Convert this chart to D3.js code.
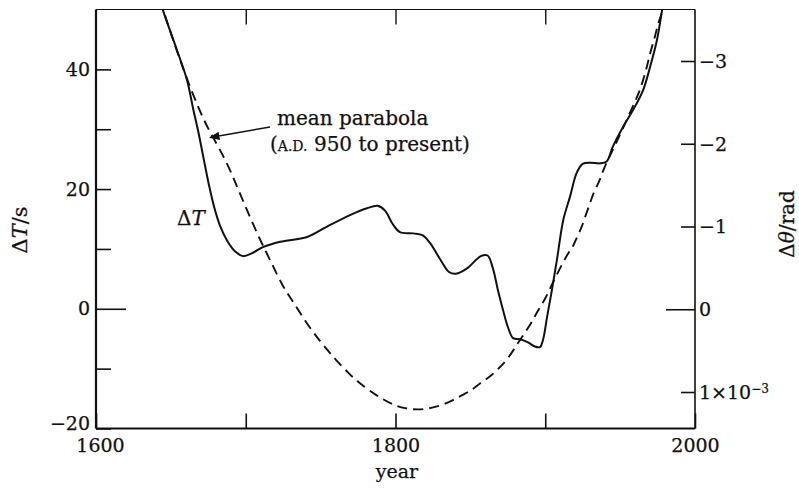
<!DOCTYPE html>
<html>
<head>
<meta charset="utf-8">
<script src="https://cdn.jsdelivr.net/npm/d3@7"></script>
<style>
  html, body { margin: 0; padding: 0; background: #fff; }
  svg { display: block; }
  text { font-family: "DejaVu Serif", "Liberation Serif", serif; fill: #111; stroke: #111; stroke-width: 0.25px; }
</style>
</head>
<body>
<svg id="chart" width="799" height="489"></svg>
<script>
// Clock error ΔT (seconds) since 1600, with the mean parabola fitted from A.D. 950.
const deltaTYears = [1643, 1644.7, 1654.1, 1660.8, 1664.8, 1668.8, 1672.1, 1675.5, 1678.8, 1682.8, 1687.5, 1692.8,
  1698.2, 1704.2, 1711.5, 1723, 1741, 1754, 1770, 1781, 1788, 1793, 1798, 1803, 1812, 1818, 1823, 1830, 1836,
  1841, 1848, 1857, 1861.5, 1865, 1868.4, 1871.8, 1875, 1878.5, 1883, 1888.5, 1893, 1896.5, 1898.5, 1901.2,
  1904.5, 1908, 1912, 1916.5, 1921, 1925, 1930, 1936.6, 1941, 1945, 1952, 1958.6, 1965.3, 1970, 1974.6, 1978, 1979];
const deltaTValues = [51.5, 49.9, 43.2, 38.2, 33.5, 29.0, 24.8, 20.6, 17.1, 13.9, 11.4, 9.6,
  8.8, 9.3, 10.3, 11.2, 12.0, 13.7, 15.7, 16.8, 17.2, 16.4, 14.2, 12.8, 12.6, 12.3, 11.0, 8.2, 6.1,
  5.9, 6.8, 8.8, 8.9, 6.8, 3.1, -0.2, -3.0, -4.9, -5.1, -5.6, -6.3, -6.4, -5.2, -1.4,
  3.2, 8.5, 14.8, 18.7, 22.7, 24.2, 24.4, 24.3, 24.6, 27.0, 30.4, 33.2, 36.5, 40.4, 44.9, 49.9, 51.5];

const parabolaYears = [1643, 1644.7, 1658, 1671.5, 1678.1, 1687.5, 1694.2, 1700.8, 1709.5, 1716.2, 1724.9, 1730.9,
  1740, 1750, 1760, 1769.6, 1775, 1781, 1787.6, 1791.7, 1798, 1805, 1814.4, 1825, 1836.4, 1844.4, 1851, 1856.4,
  1863, 1867.8, 1874.5, 1881.8, 1887.8, 1891.8, 1895.2, 1899.8, 1905.2, 1911.8, 1915.2, 1918.5, 1921.2, 1924.5,
  1926.5, 1929.9, 1932, 1936.6, 1938.6, 1945, 1952, 1961.3, 1963.3, 1968, 1969.9, 1973.3, 1975.3, 1978.6, 1980];
const parabolaValues = [51.5, 50, 40, 31.6, 28.7, 24.4, 20.4, 16.5, 11.5, 8.2, 3.6, 1.5,
  -2.2, -5.6, -8.5, -11.0, -12.2, -13.4, -14.5, -15.1, -16.0, -16.6, -16.9, -16.6, -15.6, -14.4, -13.6, -12.4,
  -11.4, -10.2, -8.6, -5.7, -3.5, -1.9, -0.2, 1.5, 4.5, 7.7, 9.3, 10.3, 12, 13.7,
  15.3, 17.6, 19.3, 21.5, 23.2, 26.5, 30.2, 35.4, 36.5, 40.4, 42.7, 45.4, 47.7, 49.9, 51.2];

// Axis ticks and labels
const yearTicks = [1600, 1700, 1800, 1900, 2000];
const yearLabels = ["1600", "", "1800", "", "2000"];
const dtTicks = [-20, -10, 0, 10, 20, 30, 40];
const dtLabels = ["−20", "", "0", "", "20", "", "40"];
const thetaTicks = [-3, -2, -1, 0, 1];
const thetaLabels = ["−3", "−2", "−1", "0", "1×10"];

const svg = d3.select("#chart");
const plotLeft = 96, plotRight = 695, plotTop = 9.5, plotBottom = 428.5;

const x = d3.scaleLinear().domain([1600, 2000]).range([plotLeft, plotRight]);
const y = d3.scaleLinear().domain([-20, 50]).range([plotBottom, plotTop]);
const yTheta = d3.scaleLinear().domain([-3, 1]).range([61, 392]);

const defs = svg.append("defs");
defs.append("clipPath").attr("id", "plot-clip")
  .append("rect").attr("x", plotLeft).attr("y", plotTop)
  .attr("width", plotRight - plotLeft).attr("height", plotBottom - plotTop);

// Frame
const frame = svg.append("g").attr("fill", "none").attr("stroke", "#111");
frame.append("line").attr("x1", plotLeft).attr("x2", plotLeft).attr("y1", plotTop).attr("y2", plotBottom).attr("stroke-width", 2.2);
frame.append("line").attr("x1", plotLeft).attr("x2", plotRight).attr("y1", plotBottom).attr("y2", plotBottom).attr("stroke-width", 2);
frame.append("line").attr("x1", plotLeft).attr("x2", plotRight).attr("y1", plotTop).attr("y2", plotTop).attr("stroke-width", 1.2);
frame.append("line").attr("x1", plotRight).attr("x2", plotRight).attr("y1", plotTop).attr("y2", plotBottom).attr("stroke-width", 1.6);

// Bottom axis: inward ticks, labels below
const xAxis = d3.axisBottom(x).tickValues(yearTicks).tickSize(-15).tickPadding(10)
  .tickFormat((d, i) => yearLabels[i]);
const gx = svg.append("g").attr("transform", `translate(0,${plotBottom})`).call(xAxis);
gx.select(".domain").remove();
gx.selectAll(".tick line").attr("stroke", "#111").attr("stroke-width", 1.6);
gx.selectAll(".tick text").attr("font-size", 19).attr("font-family", "DejaVu Serif").attr("fill", "#111")
  .attr("dx", d => d === 1600 ? 4 : 0);

// Top axis: inward ticks only
const gxTop = svg.append("g").attr("transform", `translate(0,${plotTop})`)
  .call(d3.axisTop(x).tickValues(yearTicks.slice(1, -1)).tickSize(-15).tickFormat(""));
gxTop.select(".domain").remove();
gxTop.selectAll(".tick line").attr("stroke", "#111").attr("stroke-width", 1.4);

// Left axis (ΔT in seconds)
const yAxis = d3.axisLeft(y).tickValues(dtTicks).tickSize(0).tickPadding(6)
  .tickFormat((d, i) => dtLabels[i]);
const gy = svg.append("g").attr("transform", `translate(${plotLeft},0)`).call(yAxis);
gy.select(".domain").remove();
gy.selectAll(".tick line").remove();
gy.selectAll(".tick").append("line")
  .attr("x1", 0).attr("x2", d => d === 0 ? 30 : 15)
  .attr("stroke", "#111").attr("stroke-width", 1.6);
gy.selectAll(".tick text").attr("font-size", 19).attr("font-family", "DejaVu Serif").attr("fill", "#111")
  .attr("y", d => d === -20 ? -5 : 0);

// Right axis (Δθ in radians)
const gr = svg.append("g").attr("transform", `translate(${plotRight},0)`)
  .call(d3.axisRight(yTheta).tickValues(thetaTicks).tickSize(0).tickPadding(4).tickFormat(""));
gr.select(".domain").remove();
gr.selectAll(".tick line").remove();
gr.selectAll(".tick text").remove();
gr.selectAll(".tick").append("line")
  .attr("x1", d => d === 0 ? -29 : -14).attr("x2", 0)
  .attr("stroke", "#111").attr("stroke-width", 1.6);
const rt = gr.selectAll(".tick").append("text")
  .attr("x", 4).attr("dy", "0.34em").attr("text-anchor", "start")
  .attr("font-size", 19).attr("fill", "#111");
rt.append("tspan").text((d, i) => thetaLabels[i]);
rt.filter(d => d === 1).append("tspan").attr("dy", "-0.5em").attr("font-size", 12).text("−3");

// Curves
const plot = svg.append("g").attr("clip-path", "url(#plot-clip)");
const parabola = parabolaYears.map((t, i) => [t, parabolaValues[i]]);
const deltaT = deltaTYears.map((t, i) => [t, deltaTValues[i]]);

plot.append("path").datum(parabola)
  .attr("fill", "none").attr("stroke", "#111").attr("stroke-width", 1.9)
  .attr("stroke-dasharray", "10,6")
  .attr("d", d3.line().x(d => x(d[0])).y(d => y(d[1])).curve(d3.curveBasis));

plot.append("path").datum(deltaT)
  .attr("fill", "none").attr("stroke", "#111").attr("stroke-width", 2)
  .attr("stroke-linejoin", "round")
  .attr("d", d3.line().x(d => x(d[0])).y(d => y(d[1])).curve(d3.curveCatmullRom.alpha(0.5)));

// Annotations
const ann = svg.append("g");
const dtLabel = ann.append("text").attr("x", 177).attr("y", 225).attr("font-size", 20);
dtLabel.append("tspan").text("Δ");
dtLabel.append("tspan").attr("font-style", "italic").text("T");

ann.append("text").attr("x", 277).attr("y", 125).attr("font-size", 20).text("mean parabola");
const sub = ann.append("text").attr("x", 270).attr("y", 151).attr("font-size", 20);
sub.append("tspan").text("(");
sub.append("tspan").attr("font-size", 14).text("A.D.");
sub.append("tspan").text(" 950 to present)");

// Leader arrow pointing at the dashed curve
defs.append("marker").attr("id", "arrowhead")
  .attr("viewBox", "0 0 10 10").attr("refX", 9).attr("refY", 5)
  .attr("markerWidth", 7).attr("markerHeight", 7).attr("orient", "auto")
  .append("path").attr("d", "M0,1L10,5L0,9Z").attr("fill", "#111");
ann.append("line").attr("x1", 270).attr("y1", 127).attr("x2", 210).attr("y2", 137.5)
  .attr("stroke", "#111").attr("stroke-width", 1.5).attr("marker-end", "url(#arrowhead)");

// Axis titles
svg.append("text").attr("x", 397).attr("y", 478)
  .attr("text-anchor", "middle").attr("font-size", 19).text("year");

const yl = svg.append("text").attr("transform", "translate(27,230) rotate(-90)")
  .attr("text-anchor", "middle").attr("font-size", 21);
yl.append("tspan").text("Δ");
yl.append("tspan").attr("font-style", "italic").text("T");
yl.append("tspan").text("/s");

const yr = svg.append("text").attr("transform", "translate(794,224) rotate(-90)")
  .attr("text-anchor", "middle").attr("font-size", 20);
yr.append("tspan").text("Δ");
yr.append("tspan").attr("font-style", "italic").text("θ");
yr.append("tspan").text("/rad");
</script>
</body>
</html>
